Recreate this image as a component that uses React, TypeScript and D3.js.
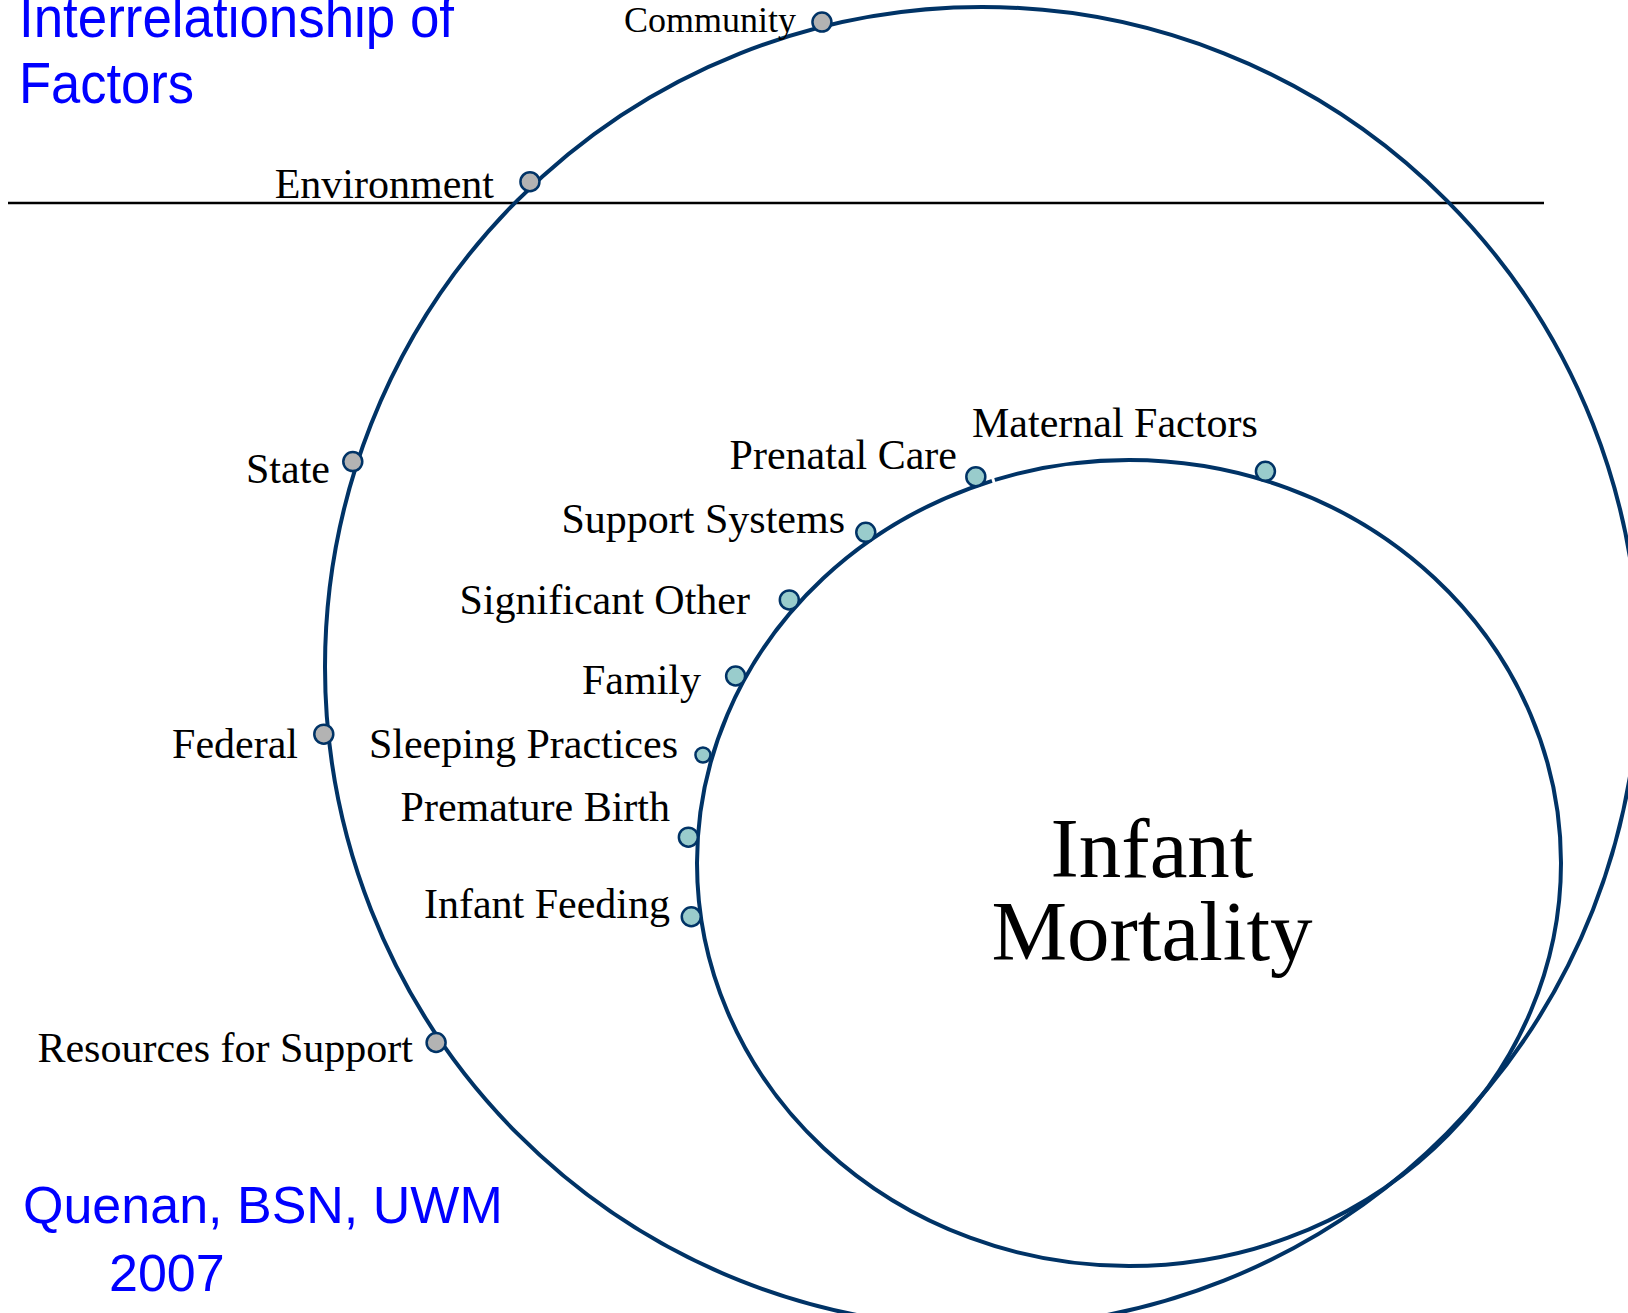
import * as d3 from 'd3'

// factors on the outer (environment) ring
const outerFactors = ['Community', 'Environment', 'State', 'Federal', 'Resources for Support']
const outerAngles = [-104.0, -133.1, -162.0, 174.2, 145.6]

// factors on the inner (maternal) ellipse
const innerFactors = [
  'Prenatal Care',
  'Maternal Factors',
  'Support Systems',
  'Significant Other',
  'Family',
  'Sleeping Practices',
  'Premature Birth',
  'Infant Feeding',
]
const innerAngles = [-110.3, -72.0, -126.6, -140.3, -153.0, -164.8, -176.4, 172.5]

const titleLines = ['Interrelationship of', 'Factors']
const centerLines = ['Infant', 'Mortality']
const creditLines = ['Quenan, BSN, UWM', '2007']

// label anchors: [x, y, anchor]
const outerLabelPos: [number, number, string][] = [
  [796, 32, 'end'],
  [494, 198, 'end'],
  [330, 483, 'end'],
  [298, 758, 'end'],
  [413, 1062, 'end'],
]
const innerLabelPos: [number, number, string][] = [
  [957, 469, 'end'],
  [972, 437, 'start'],
  [845, 533, 'end'],
  [750, 614, 'end'],
  [701, 694, 'end'],
  [678, 758, 'end'],
  [670, 821, 'end'],
  [670, 918, 'end'],
]

const W = 1628
const H = 1313
const NAVY = '#003366'
const SERIF = '"Liberation Serif", "Times New Roman", serif'
const SANS = '"Liberation Sans", Arial, sans-serif'

const outer = { cx: 982, cy: 667, rx: 657, ry: 660 }
const inner = { cx: 1129, cy: 863, rx: 432, ry: 403 }

const angle = d3.scaleLinear().domain([0, 360]).range([0, 2 * Math.PI])

function onRing(ring: { cx: number; cy: number; rx: number; ry: number }, deg: number, k: number) {
  const a = angle(deg)
  return [ring.cx + ring.rx * k * Math.cos(a), ring.cy + ring.ry * k * Math.sin(a)]
}

export default function App() {
  // little white break in the inner line right of "Prenatal Care"
  const gapT = angle(-108.3)
  const [gx, gy] = onRing(inner, -108.3, 1)
  const nx = Math.cos(gapT) / inner.rx
  const ny = Math.sin(gapT) / inner.ry
  const nl = Math.hypot(nx, ny)
  const gap = d3.line()([
    [gx - (nx / nl) * 5, gy - (ny / nl) * 5],
    [gx + (nx / nl) * 5, gy + (ny / nl) * 5],
  ])

  return (
    <div style={{ position: 'absolute', left: 0, top: 0, width: W, height: H, overflow: 'hidden' }}>
      <svg width={W} height={H} style={{ display: 'block', background: '#fff' }}>
        <line x1={8} x2={1544} y1={203} y2={203} stroke="#000" strokeWidth={2.5} />

        <ellipse cx={outer.cx} cy={outer.cy} rx={outer.rx} ry={outer.ry} fill="none" stroke={NAVY} strokeWidth={4} />
        <ellipse cx={inner.cx} cy={inner.cy} rx={inner.rx} ry={inner.ry} fill="none" stroke={NAVY} strokeWidth={4} />
        <path d={gap || ''} stroke="#fff" strokeWidth={3} />

        {outerAngles.map((a, i) => {
          const [x, y] = onRing(outer, a, 1.007)
          return <circle key={i} cx={x} cy={y} r={9.5} fill="#b3b3b3" stroke={NAVY} strokeWidth={2.5} />
        })}
        {innerAngles.map((a, i) => {
          const [x, y] = onRing(inner, a, 1.022)
          const r = innerFactors[i] === 'Sleeping Practices' ? 7.5 : 9.5
          return <circle key={i} cx={x} cy={y} r={r} fill="#99cccc" stroke={NAVY} strokeWidth={2.5} />
        })}

        {outerFactors.map((f, i) => (
          <text
            key={f}
            x={outerLabelPos[i][0]}
            y={outerLabelPos[i][1]}
            textAnchor={outerLabelPos[i][2] as any}
            fontFamily={SERIF}
            fontSize={f === 'Community' ? 36 : 42}
            fill="#000"
          >
            {f}
          </text>
        ))}
        {innerFactors.map((f, i) => (
          <text
            key={f}
            x={innerLabelPos[i][0]}
            y={innerLabelPos[i][1]}
            textAnchor={innerLabelPos[i][2] as any}
            fontFamily={SERIF}
            fontSize={42}
            fill="#000"
          >
            {f}
          </text>
        ))}

        {centerLines.map((t, i) => (
          <text key={t} x={1152} y={877 + i * 83} textAnchor="middle" fontFamily={SERIF} fontSize={85} fill="#000">
            {t}
          </text>
        ))}

        <text x={19} y={37} fontFamily={SANS} fontSize={58} fill="#0000ff" textLength={435} lengthAdjust="spacingAndGlyphs">
          {titleLines[0]}
        </text>
        <text x={19} y={103} fontFamily={SANS} fontSize={58} fill="#0000ff" textLength={175} lengthAdjust="spacingAndGlyphs">
          {titleLines[1]}
        </text>

        <text x={23} y={1223} fontFamily={SANS} fontSize={52} fill="#0000ff">
          {creditLines[0]}
        </text>
        <text x={109} y={1291} fontFamily={SANS} fontSize={52} fill="#0000ff">
          {creditLines[1]}
        </text>
      </svg>
    </div>
  )
}
